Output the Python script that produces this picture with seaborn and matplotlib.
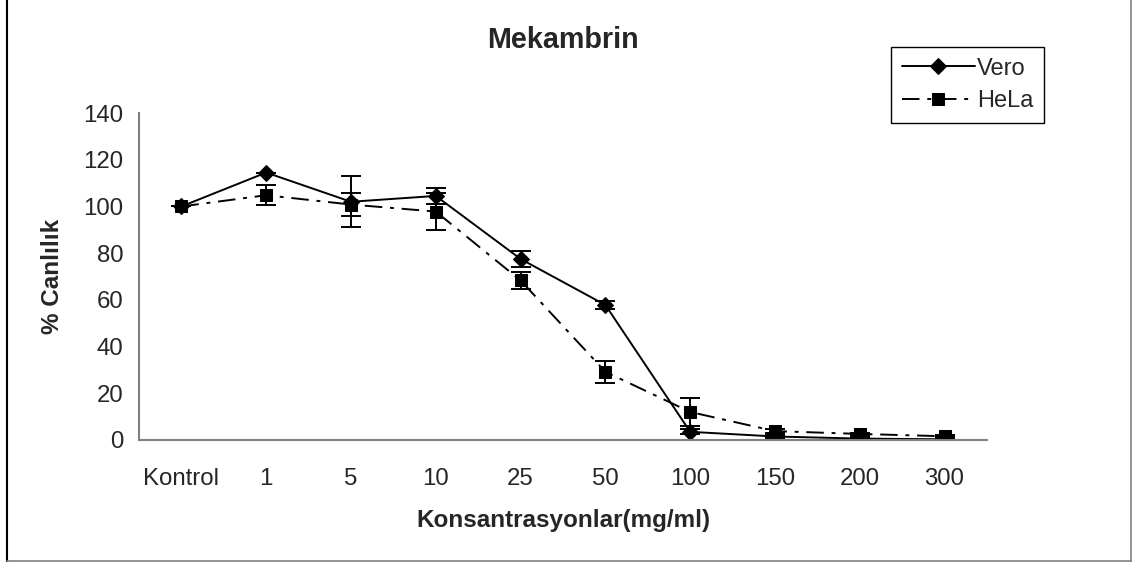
import pandas as pd
import numpy as np
import seaborn as sns
import matplotlib.pyplot as plt
from matplotlib.lines import Line2D

konsantrasyon = ["Kontrol", "1", "5", "10", "25", "50", "100", "150", "200", "300"]
vero = [100, 114.5, 102, 104.5, 77.5, 57.8, 3.5, 1.5, 0.6, 0.3]
vero_err = [0, 0, 11, 3.3, 3.5, 1.6, 1.0, 0.8, 0.5, 0.5]
hela = [100, 104.8, 100.8, 97.8, 68.3, 29.2, 12, 3.8, 2.6, 1.6]
hela_err = [0, 4.3, 5, 8, 3.5, 4.7, 6, 0.8, 0.5, 0.5]

df = pd.DataFrame({
    "Konsantrasyon": konsantrasyon * 2,
    "Canlilik": vero + hela,
    "Hucre": ["Vero"] * len(vero) + ["HeLa"] * len(hela),
})

sns.set_style("white")
plt.rcParams["font.family"] = ["Liberation Sans", "DejaVu Sans"]

fig = plt.figure(figsize=(11.34, 5.62), dpi=100)
ax = fig.add_axes([139 / 1134, 1 - 440 / 562, (987 - 139) / 1134, (440 - 113) / 562])

sns.lineplot(data=df, x="Konsantrasyon", y="Canlilik", hue="Hucre", style="Hucre",
             palette={"Vero": "black", "HeLa": "black"},
             markers={"Vero": "D", "HeLa": "s"},
             dashes={"Vero": "", "HeLa": (9, 4, 2, 4)},
             markersize=8.5, linewidth=1.4, markeredgecolor="black",
             sort=False, ax=ax)

ax.errorbar(konsantrasyon, vero, yerr=vero_err, fmt="none", ecolor="black",
            elinewidth=1.4, capsize=7, capthick=1.4)
ax.errorbar(konsantrasyon, hela, yerr=hela_err, fmt="none", ecolor="black",
            elinewidth=1.4, capsize=7, capthick=1.4)

ax.set_xlim(-0.5, 9.5)
ax.set_ylim(0, 140)
ax.set_yticks(np.arange(0, 141, 20))
ax.set_xticks(np.arange(-0.5, 10, 1), minor=True)
ax.tick_params(axis="x", which="major", length=0, pad=20, labelsize=17.3)
ax.tick_params(axis="x", which="minor", length=6, color="#808080", width=1.2, direction="out")
ax.tick_params(axis="y", length=6, color="#808080", width=1.2, direction="out", labelsize=17.3, pad=5)
for s in ["top", "right"]:
    ax.spines[s].set_visible(False)
for s in ["left", "bottom"]:
    ax.spines[s].set_color("#808080")
    ax.spines[s].set_linewidth(1.5)

ax.set_xlabel("Konsantrasyonlar(mg/ml)", fontsize=17.5, fontweight="bold", labelpad=14)
ax.set_ylabel("% Canlılık", fontsize=17.5, fontweight="bold", labelpad=14)
fig.text(563 / 1134, 1 - 40 / 562, "Mekambrin", fontsize=20.7, fontweight="bold",
         ha="center", va="center")

handles, labels = ax.get_legend_handles_labels()
leg = ax.legend(handles, labels, loc="upper left",
                bbox_to_anchor=(891 / 1134, 1 - 47 / 562), bbox_transform=fig.transFigure,
                borderaxespad=0, fontsize=17, handlelength=3.1, handletextpad=0.1,
                frameon=True, fancybox=False, framealpha=1, borderpad=0.45,
                labelspacing=0.45)
leg.get_frame().set_edgecolor("black")
leg.get_frame().set_linewidth(1.0)

# figure border
fig.add_artist(Line2D([7 / 1134, 7 / 1134], [0, 1], color="black", linewidth=1.5,
                      transform=fig.transFigure))
fig.add_artist(Line2D([1131 / 1134, 1131 / 1134], [0, 1], color="#808080", linewidth=1.2,
                      transform=fig.transFigure))
fig.add_artist(Line2D([7 / 1134, 1131 / 1134], [1 / 562, 1 / 562], color="#808080",
                      linewidth=1.2, transform=fig.transFigure))

fig.savefig("out.png", dpi=100)
